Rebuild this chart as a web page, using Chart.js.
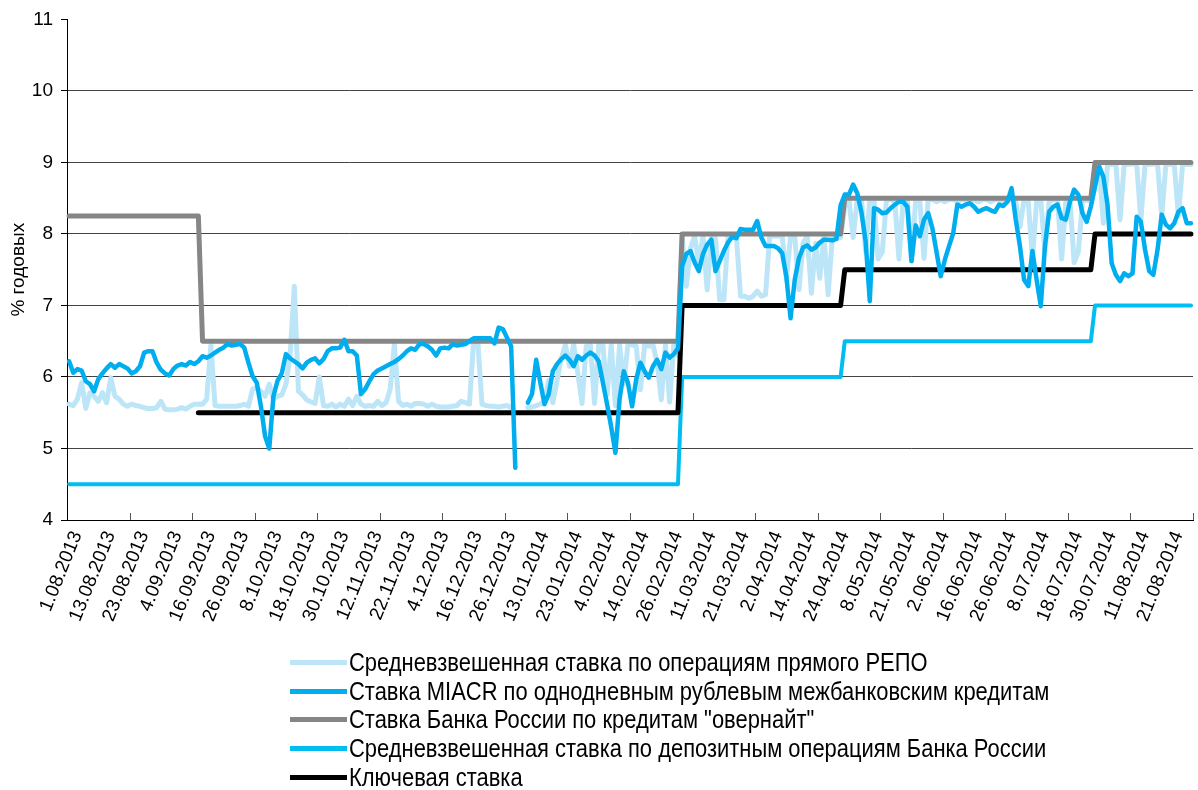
<!DOCTYPE html>
<html><head><meta charset="utf-8">
<script src="https://cdn.jsdelivr.net/npm/chart.js@4.4.1/dist/chart.umd.min.js"></script>
<style>
html,body{margin:0;padding:0;background:#fff;}
#wrap{position:relative;width:1198px;height:790px;overflow:hidden;}
#chartBox{position:absolute;left:0;top:0;width:1198px;height:650px;}
#legend{position:absolute;left:290px;top:648px;font-family:'Liberation Sans',Arial,Helvetica,sans-serif;font-size:25px;color:#000;line-height:1;}
.item{display:flex;align-items:center;height:28.75px;white-space:nowrap;}
.swatch{width:57px;height:5px;margin-right:2px;flex:none;}
.txt{display:inline-block;transform:scaleX(0.877);transform-origin:0 50%;}
</style></head>
<body><div id="wrap"><div id="chartBox"><canvas id="c"></canvas></div><div id="legend"></div></div>
<script>
// ---- categories: trading days 1.08.2013 – 28.08.2014 ----
const dates = [
'1.08.2013','2.08.2013','5.08.2013','6.08.2013','7.08.2013','8.08.2013','9.08.2013','12.08.2013','13.08.2013','14.08.2013','15.08.2013','16.08.2013','19.08.2013','20.08.2013','21.08.2013','22.08.2013','23.08.2013','26.08.2013','27.08.2013','28.08.2013','29.08.2013','30.08.2013',
'2.09.2013','3.09.2013','4.09.2013','5.09.2013','6.09.2013','9.09.2013','10.09.2013','11.09.2013','12.09.2013','13.09.2013','16.09.2013','17.09.2013','18.09.2013','19.09.2013','20.09.2013','23.09.2013','24.09.2013','25.09.2013','26.09.2013','27.09.2013','30.09.2013',
'1.10.2013','2.10.2013','3.10.2013','4.10.2013','7.10.2013','8.10.2013','9.10.2013','10.10.2013','11.10.2013','14.10.2013','15.10.2013','16.10.2013','17.10.2013','18.10.2013','21.10.2013','22.10.2013','23.10.2013','24.10.2013','25.10.2013','28.10.2013','29.10.2013','30.10.2013','31.10.2013',
'1.11.2013','5.11.2013','6.11.2013','7.11.2013','8.11.2013','11.11.2013','12.11.2013','13.11.2013','14.11.2013','15.11.2013','18.11.2013','19.11.2013','20.11.2013','21.11.2013','22.11.2013','25.11.2013','26.11.2013','27.11.2013','28.11.2013','29.11.2013',
'2.12.2013','3.12.2013','4.12.2013','5.12.2013','6.12.2013','9.12.2013','10.12.2013','11.12.2013','12.12.2013','13.12.2013','16.12.2013','17.12.2013','18.12.2013','19.12.2013','20.12.2013','23.12.2013','24.12.2013','25.12.2013','26.12.2013','27.12.2013','30.12.2013','31.12.2013',
'3.01.2014','8.01.2014','9.01.2014','10.01.2014','13.01.2014','14.01.2014','15.01.2014','16.01.2014','17.01.2014','20.01.2014','21.01.2014','22.01.2014','23.01.2014','24.01.2014','27.01.2014','28.01.2014','29.01.2014','30.01.2014','31.01.2014',
'3.02.2014','4.02.2014','5.02.2014','6.02.2014','7.02.2014','10.02.2014','11.02.2014','12.02.2014','13.02.2014','14.02.2014','17.02.2014','18.02.2014','19.02.2014','20.02.2014','21.02.2014','24.02.2014','25.02.2014','26.02.2014','27.02.2014','28.02.2014',
'3.03.2014','4.03.2014','5.03.2014','6.03.2014','7.03.2014','11.03.2014','12.03.2014','13.03.2014','14.03.2014','17.03.2014','18.03.2014','19.03.2014','20.03.2014','21.03.2014','24.03.2014','25.03.2014','26.03.2014','27.03.2014','28.03.2014','31.03.2014',
'1.04.2014','2.04.2014','3.04.2014','4.04.2014','7.04.2014','8.04.2014','9.04.2014','10.04.2014','11.04.2014','14.04.2014','15.04.2014','16.04.2014','17.04.2014','18.04.2014','21.04.2014','22.04.2014','23.04.2014','24.04.2014','25.04.2014','28.04.2014','29.04.2014','30.04.2014',
'5.05.2014','6.05.2014','7.05.2014','8.05.2014','12.05.2014','13.05.2014','14.05.2014','15.05.2014','16.05.2014','19.05.2014','20.05.2014','21.05.2014','22.05.2014','23.05.2014','26.05.2014','27.05.2014','28.05.2014','29.05.2014','30.05.2014',
'2.06.2014','3.06.2014','4.06.2014','5.06.2014','6.06.2014','9.06.2014','10.06.2014','11.06.2014','16.06.2014','17.06.2014','18.06.2014','19.06.2014','20.06.2014','23.06.2014','24.06.2014','25.06.2014','26.06.2014','27.06.2014','30.06.2014',
'1.07.2014','2.07.2014','3.07.2014','4.07.2014','7.07.2014','8.07.2014','9.07.2014','10.07.2014','11.07.2014','14.07.2014','15.07.2014','16.07.2014','17.07.2014','18.07.2014','21.07.2014','22.07.2014','23.07.2014','24.07.2014','25.07.2014','28.07.2014','29.07.2014','30.07.2014','31.07.2014',
'1.08.2014','4.08.2014','5.08.2014','6.08.2014','7.08.2014','8.08.2014','11.08.2014','12.08.2014','13.08.2014','14.08.2014','15.08.2014','18.08.2014','19.08.2014','20.08.2014','21.08.2014','22.08.2014','25.08.2014','26.08.2014','27.08.2014','28.08.2014'
];

// ---- series names ----
const seriesNames = [
  'Средневзвешенная ставка по операциям прямого РЕПО',
  'Ставка MIACR по однодневным рублевым межбанковским кредитам',
  'Ставка Банка России по кредитам "овернайт"',
  'Средневзвешенная ставка по депозитным операциям Банка России',
  'Ключевая ставка'
];

// ---- daily series (% годовых) ----
const repoRate = [
5.62,5.60,5.69,5.92,5.56,5.78,5.73,5.66,5.78,5.64,
5.99,5.73,5.69,5.62,5.59,5.62,5.60,5.59,5.57,5.56,
5.56,5.57,5.66,5.55,5.54,5.54,5.55,5.57,5.55,5.59,
5.62,5.62,5.62,5.69,6.45,5.60,5.59,5.59,5.59,5.59,
5.59,5.60,5.62,5.59,5.83,5.85,5.80,5.73,5.90,5.69,
5.73,5.75,5.90,6.30,7.27,5.80,5.75,5.68,5.65,5.63,
6.00,5.60,5.59,5.62,5.58,5.62,5.59,5.69,5.60,5.73,
5.62,5.59,5.60,5.59,5.66,5.60,5.64,5.83,6.46,5.66,
5.60,5.62,5.59,5.63,5.63,5.62,5.59,5.62,5.59,5.58,
5.58,5.58,5.59,5.60,5.66,5.64,5.62,6.50,6.50,5.62,
5.60,5.59,5.59,5.58,5.59,5.60,5.57,null,null,null,
5.57,5.58,5.60,5.62,5.66,5.95,5.64,5.95,6.25,6.45,
6.15,6.45,6.05,5.63,6.43,6.45,5.63,6.45,6.45,5.75,
6.45,5.60,6.45,5.90,6.45,6.45,6.43,5.82,6.45,6.43,
6.45,6.20,5.68,6.45,5.65,6.45,6.30,7.97,7.27,7.80,
7.97,7.60,7.97,7.22,7.94,7.94,7.08,7.08,7.97,7.97,
7.97,7.13,7.13,7.10,7.13,7.20,7.13,7.15,7.97,7.97,
7.97,7.97,7.36,7.97,7.97,7.22,7.87,7.97,7.17,7.87,
7.38,7.97,7.15,7.94,7.94,7.95,8.38,8.48,7.95,8.48,
8.48,7.75,8.48,8.48,7.65,7.75,8.48,8.48,8.45,7.65,
8.48,8.48,7.62,8.48,8.45,7.66,8.48,8.48,8.45,8.48,
8.45,8.48,8.48,8.45,8.48,8.48,8.45,8.48,8.45,8.48,
8.48,8.45,8.48,8.48,8.45,8.48,8.48,8.45,8.10,8.48,
8.45,7.65,8.45,8.48,7.75,8.45,8.48,8.48,7.65,8.45,
8.48,7.60,7.75,8.45,8.48,8.45,8.90,8.97,8.15,8.97,
8.97,8.98,8.20,8.97,8.97,8.98,8.97,8.20,8.97,8.97,
8.98,8.97,8.25,8.97,8.97,8.98,8.25,8.97,8.97,8.97
];
const miacrRate = [
6.22,6.06,6.11,6.09,5.94,5.90,5.80,5.97,6.05,6.12,
6.18,6.13,6.18,6.15,6.12,6.05,6.08,6.15,6.34,6.36,
6.36,6.20,6.10,6.05,6.02,6.11,6.16,6.18,6.16,6.21,
6.18,6.22,6.29,6.27,6.30,6.34,6.38,6.41,6.46,6.44,
6.45,6.46,6.41,6.20,6.01,5.92,5.59,5.17,5.00,5.73,
5.95,6.05,6.32,6.26,6.22,6.18,6.12,6.20,6.24,6.26,
6.19,6.25,6.36,6.40,6.40,6.41,6.52,6.36,6.36,6.30,
5.76,5.83,5.94,6.04,6.09,6.12,6.15,6.18,6.21,6.25,
6.30,6.36,6.40,6.38,6.46,6.46,6.43,6.38,6.30,6.40,
6.41,6.40,6.46,6.44,6.45,6.46,6.50,6.54,6.54,6.54,
6.54,6.54,6.47,6.69,6.67,6.55,6.43,4.73,null,null,
5.64,5.76,6.24,5.92,5.62,5.76,6.08,6.18,6.25,6.30,
6.24,6.15,6.29,6.24,6.30,6.34,6.30,6.22,5.92,5.62,
5.30,4.94,5.69,6.08,5.92,5.59,5.97,6.20,6.08,5.99,
6.15,6.24,6.11,6.34,6.27,6.32,6.40,7.55,7.72,7.76,
7.60,7.48,7.72,7.85,7.92,7.48,7.62,7.76,7.88,7.96,
7.94,8.07,8.06,8.06,8.06,8.18,7.95,7.83,7.83,7.83,
7.80,7.73,7.40,6.82,7.36,7.66,7.81,7.84,7.78,7.81,
7.88,7.92,7.92,7.91,7.93,8.40,8.55,8.55,8.69,8.57,
8.30,7.90,7.06,8.36,8.34,8.29,8.30,8.36,8.41,8.45,
8.45,8.38,7.62,8.12,7.97,8.20,8.29,8.08,7.75,7.41,
7.64,7.83,8.01,8.41,8.38,8.41,8.43,8.38,8.31,8.34,
8.36,8.33,8.31,8.41,8.39,8.45,8.64,8.20,7.83,7.36,
7.27,7.76,7.36,6.99,7.83,8.31,8.38,8.41,8.22,8.20,
8.45,8.62,8.55,8.29,8.17,8.38,8.66,8.94,8.80,8.41,
7.59,7.43,7.34,7.45,7.41,7.45,8.24,8.17,7.78,7.48,
7.43,7.78,8.27,8.13,8.08,8.15,8.31,8.36,8.15,8.15
];

// ---- policy rates: values at the dates where they start / end ----
const overnightDates = ['1.08.2013','13.09.2013','16.09.2013','28.02.2014','3.03.2014','25.04.2014','28.04.2014','25.07.2014','28.07.2014','28.08.2014'];
const overnightRate  = [8.25, 8.25, 6.5, 6.5, 8.0, 8.0, 8.5, 8.5, 9.0, 9.0];
const depositDates   = ['1.08.2013','28.02.2014','3.03.2014','25.04.2014','28.04.2014','25.07.2014','28.07.2014','28.08.2014'];
const depositRate    = [4.5, 4.5, 6.0, 6.0, 6.5, 6.5, 7.0, 7.0];
const keyDates       = ['13.09.2013','28.02.2014','3.03.2014','25.04.2014','28.04.2014','25.07.2014','28.07.2014','28.08.2014'];
const keyRate        = [5.5, 5.5, 7.0, 7.0, 7.5, 7.5, 8.0, 8.0];

// ---- axis ----
const yTicks = [4, 5, 6, 7, 8, 9, 10, 11];
const labelEvery = 8;   // every 8th date is labelled
const tickEvery = 15;   // tick marks every 15 dates

const colors = ['#BDE5F8', '#00AEEF', '#868686', '#00BDF2', '#000000'];
const widths = [5, 4.5, 5, 4, 5];
const drawOrder = [4, 0, 3, 2, 1];

const pts = (d, v) => d.map((x, i) => ({x: x, y: v[i]}));
const seriesData = [
  repoRate,
  miacrRate,
  pts(overnightDates, overnightRate),
  pts(depositDates, depositRate),
  pts(keyDates, keyRate)
];

const FONT = "'Liberation Sans', Arial, Helvetica, sans-serif";
Chart.defaults.font.family = FONT;
Chart.defaults.color = '#000';

const innerTicks = {
  id: 'innerTicks',
  afterDraw(chart) {
    const xs = chart.scales.x, ctx = chart.ctx;
    const n = xs.getLabels().length;
    const half = (xs.getPixelForValue(1) - xs.getPixelForValue(0)) / 2;
    ctx.save();
    ctx.strokeStyle = '#555';
    ctx.lineWidth = 1;
    for (let k = tickEvery; k <= n; k += tickEvery) {
      const x = k < n ? xs.getPixelForValue(k) - half : xs.getPixelForValue(n - 1) + half;
      const px = Math.round(x) + 0.5;
      ctx.beginPath();
      ctx.moveTo(px, xs.top);
      ctx.lineTo(px, xs.top - 7);
      ctx.stroke();
    }
    ctx.restore();
  }
};

const chart = new Chart(document.getElementById('c'), {
  type: 'line',
  data: {
    labels: dates,
    datasets: seriesNames.map((name, i) => ({
      label: name,
      data: seriesData[i],
      borderColor: colors[i],
      backgroundColor: colors[i],
      borderWidth: widths[i],
      pointRadius: 0,
      pointHoverRadius: 0,
      tension: 0,
      spanGaps: false,
      fill: false,
      borderJoinStyle: 'round',
      borderCapStyle: 'round',
      order: drawOrder[i]
    }))
  },
  options: {
    responsive: true,
    maintainAspectRatio: false,
    animation: false,
    layout: { padding: { top: 19, right: 5, left: 0, bottom: 0 } },
    plugins: { legend: { display: false }, tooltip: { enabled: false } },
    scales: {
      x: {
        offset: true,
        grid: { display: true, drawOnChartArea: false, drawTicks: false },
        border: { color: '#000', width: 1 },
        ticks: {
          autoSkip: false, minRotation: 68, maxRotation: 68,
          font: { size: 19 }, color: '#000', padding: 8, labelOffset: 8,
          callback: function (v, i) { return i % labelEvery === 0 ? this.getLabelForValue(v) : ''; }
        },
        afterFit(s) { s.height = 130; s.paddingRight = 0; s.paddingLeft = 0; }
      },
      y: {
        min: yTicks[0], max: yTicks[yTicks.length - 1],
        afterBuildTicks(s) { s.ticks = yTicks.map(v => ({value: v})); },
        ticks: { font: { size: 19 }, color: '#000', padding: 8 },
        grid: {
          color: c => (c.tick && c.tick.value === yTicks[yTicks.length - 1]) ? 'rgba(0,0,0,0)' : '#444',
          tickColor: '#000', tickLength: 6, lineWidth: 1
        },
        border: { color: '#000', width: 1 },
        title: { display: true, text: '% годовых', font: { size: 19 }, color: '#000', padding: { top: 7, bottom: 0 } },
        afterFit(s) { s.width = 67; }
      }
    }
  },
  plugins: [innerTicks]
});

// HTML legend, one entry per row, built from the datasets
const legendEl = document.getElementById('legend');
chart.data.datasets.forEach(ds => {
  const row = document.createElement('div');
  row.className = 'item';
  const sw = document.createElement('span');
  sw.className = 'swatch';
  sw.style.background = ds.borderColor;
  const tx = document.createElement('span');
  tx.className = 'txt';
  tx.textContent = ds.label;
  row.appendChild(sw); row.appendChild(tx);
  legendEl.appendChild(row);
});
</script>
</body></html>
